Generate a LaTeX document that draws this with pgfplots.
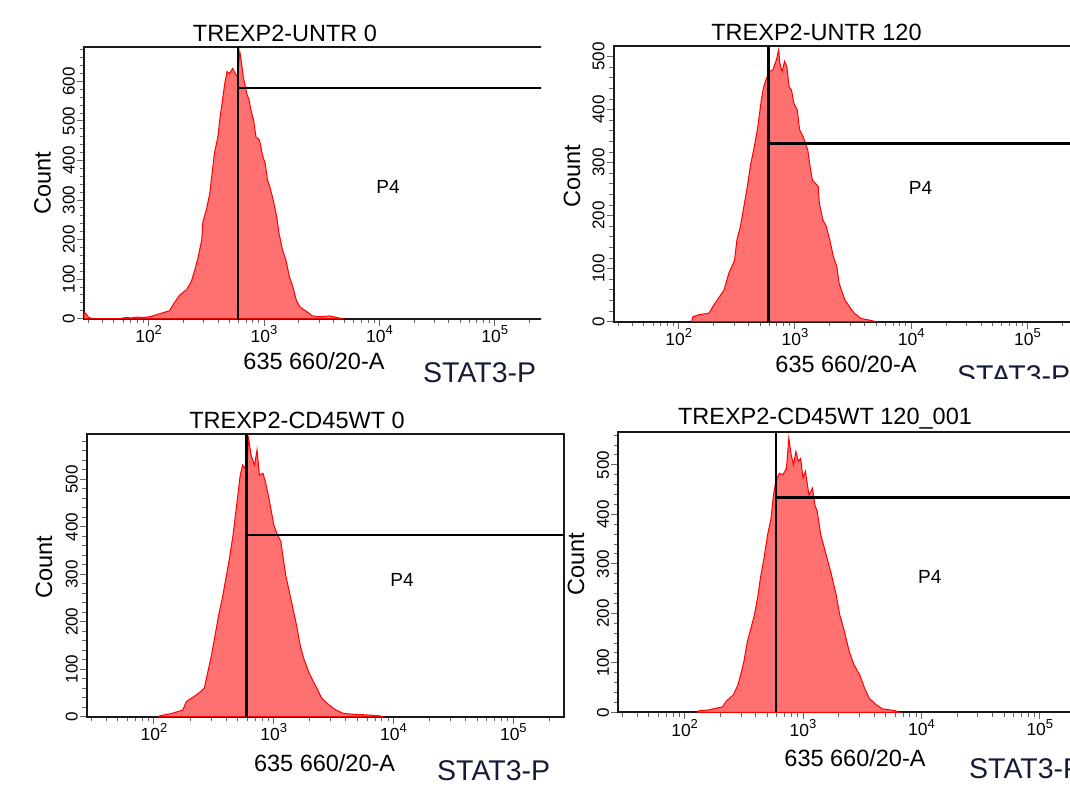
\documentclass[border=0pt]{standalone}
\usepackage{graphicx}
\usepackage{pgfplots}
\pgfplotsset{compat=1.18}
\usepackage{fontspec}
\setmainfont{Liberation Sans}
\definecolor{histfill}{RGB}{255,112,112}
\definecolor{histline}{RGB}{255,0,0}
\definecolor{statnavy}{RGB}{22,28,56}
\newcommand\tp[1]{{\fontsize{17.5}{17.5}\selectfont 10\raisebox{7.5pt}{\fontsize{13}{13}\selectfont #1}}}
\newcommand\bigf{\fontsize{23.5}{24}\selectfont}
\newcommand\pf{\fontsize{19}{19}\selectfont}
\newcommand\statf{\fontsize{28.5}{28.5}\selectfont}
\tikzset{histst/.style={draw=histline, fill=histfill, line width=1pt},
         gatest/.style={black, line width=2.2pt}}
\pgfplotsset{every axis/.append style={
  scale only axis,
  xmin=27.54, xmax=262144, ymin=0,
  axis line style={line width=2pt, black!90},
  tick pos=left, tick align=outside,
  major tick length=7pt, minor tick length=4.5pt,
  every tick/.style={line width=1pt, black!60},
  xtick={100,1000,10000,100000},
  xticklabels={\tp{2},\tp{3},\tp{4},\tp{5}},
  xticklabel style={inner sep=0pt},
  minor xtick={30,40,50,60,70,80,90,200,300,400,500,600,700,800,900,2000,3000,4000,5000,6000,7000,8000,9000,20000,30000,40000,50000,60000,70000,80000,90000,200000},
  ytick distance=100, minor y tick num=4,
  yticklabel={\fontsize{17}{17}\selectfont\pgfmathprintnumber[assume math mode=true]{\tick}},
  yticklabel style={rotate=90, anchor=south, inner sep=2pt},
}}
\begin{document}
\begin{tikzpicture}
\useasboundingbox (0pt,0pt) rectangle (1070pt,785pt);
% ---------------- Panel 1 ----------------
\begin{scope}
\clip (0pt,392pt) rectangle (541pt,785pt);
\begin{semilogxaxis}[at={(84pt,466.3pt)}, anchor=south west, width=459.1pt, height=271.7pt, ymax=687]
\addplot[histst] coordinates {(27.54,16) (28.8,12) (30.2,3) (33.1,0) (56.2,0) (63.1,3) (70.8,2) (79.4,4) (89.1,3) (102.3,5) (123.0,12) (151.4,20) (166.0,39) (186.2,60) (213.8,74) (234.4,94) (251.2,123) (269.2,157) (288.4,199) (295.1,245) (316.2,275) (338.8,317) (354.8,368) (371.5,418) (398.1,460) (416.9,511) (436.5,553) (457.1,595) (478.6,625) (501.2,620) (537.0,633) (562.3,620) (588.8,612) (616.6,675) (631.0,658) (660.7,612) (707.9,570) (741.3,553) (776.2,523) (812.8,502) (851.1,460) (912.0,452) (977.2,410) (1023,393) (1072,351) (1122,334) (1202,300) (1288,258) (1349,216) (1445,174) (1549,148) (1660,106) (1778,81) (1905,47) (2042,30) (2344,18) (2630,7) (3020,5) (3715,7) (4266,3) (4786,0)} \closedcycle;
\addplot[gatest] coordinates {(592,0) (592,687)};
\addplot[gatest] coordinates {(592,584) (262144,584)};
\node[font=\pf] at (axis cs:11890,333) {P4};
\end{semilogxaxis}
\node[font=\bigf, anchor=base] at (285pt,743pt) {TREXP2-UNTR 0};
\node[font=\bigf, anchor=base, inner sep=0pt] at (314pt,415pt) {635 660/20-A};
\node[font=\statf, text=statnavy, anchor=base west, inner sep=0pt] at (423pt,402pt) {STAT3-P};
\node[font=\bigf, rotate=90] at (42.5pt,602pt) {Count};
\end{scope}
% ---------------- Panel 2 ----------------
\begin{scope}
\clip (548pt,406pt) rectangle (1070pt,785pt);
\begin{semilogxaxis}[at={(613.7pt,463.3pt)}, anchor=south west, width=462.3pt, height=275.7pt, ymax=520]
\addplot[histst] coordinates {(128.8,0) (131.8,9) (147.9,13) (182.0,16) (199.5,31) (223.9,47) (245.5,60) (269.2,91) (302.0,116) (316.2,154) (338.8,179) (363.1,217) (389.0,255) (416.9,299) (446.7,330) (478.6,368) (512.9,418) (537.0,443) (562.3,456) (602.6,472) (645.7,475) (691.8,494) (724.4,513) (741.3,487) (776.2,472) (812.8,491) (851.1,481) (891.3,443) (933.3,437) (977.2,412) (1047,399) (1096,362) (1175,349) (1288,324) (1349,292) (1413,267) (1585,255) (1622,223) (1738,192) (1862,179) (1995,154) (2138,123) (2291,104) (2399,72) (2692,41) (2951,28) (3236,16) (3715,6) (4365,3) (5012,0)} \closedcycle;
\addplot[gatest] coordinates {(592,0) (592,520)};
\addplot[gatest] coordinates {(592,336) (262144,336)};
\node[font=\pf] at (axis cs:12020,252) {P4};
\end{semilogxaxis}
\node[font=\bigf, anchor=base] at (816.5pt,744.3pt) {TREXP2-UNTR 120};
\node[font=\bigf, anchor=base, inner sep=0pt] at (846pt,412.3pt) {635 660/20-A};
\node[font=\statf, text=statnavy, anchor=base west, inner sep=0pt] at (957pt,399pt) {STAT3-P};
\node[font=\bigf, rotate=90] at (572pt,609pt) {Count};
\end{scope}
% ---------------- Panel 3 ----------------
\begin{scope}
\clip (0pt,0pt) rectangle (566pt,392pt);
\begin{semilogxaxis}[at={(86.9pt,68.3pt)}, anchor=south west, width=476.6pt, height=282.4pt, ymax=595]
\addplot[histst] coordinates {(109.6,0) (112.2,2) (141.3,7) (173.8,14) (186.2,32) (213.8,42) (234.4,49) (263.0,60) (281.8,95) (302.0,130) (323.6,172) (346.7,214) (371.5,249) (398.1,291) (426.6,334) (457.1,383) (478.6,425) (501.2,467) (524.8,509) (549.5,530) (575.4,523) (602.6,551) (616.6,586) (645.7,551) (676.1,537) (691.8,530) (724.4,562) (758.6,509) (812.8,513) (851.1,495) (912.0,460) (955.0,432) (1000,404) (1072,383) (1148,369) (1175,348) (1259,298) (1349,263) (1445,228) (1549,193) (1660,151) (1778,123) (1950,95) (2138,74) (2291,60) (2512,39) (2884,25) (3311,14) (3802,7) (4677,5) (5754,4) (7586,2) (8128,0)} \closedcycle;
\addplot[gatest] coordinates {(592,0) (592,595)};
\addplot[gatest] coordinates {(592,383) (262144,383)};
\node[font=\pf] at (axis cs:11750,288) {P4};
\end{semilogxaxis}
\node[font=\bigf, anchor=base] at (297pt,356.7pt) {TREXP2-CD45WT 0};
\node[font=\bigf, anchor=base, inner sep=0pt] at (324.6pt,14pt) {635 660/20-A};
\node[font=\statf, text=statnavy, anchor=base west, inner sep=0pt] at (437pt,5pt) {STAT3-P};
\node[font=\bigf, rotate=90] at (44pt,218pt) {Count};
\end{scope}
% ---------------- Panel 4 ----------------
\begin{scope}
\clip (566pt,0pt) rectangle (1070pt,392pt);
\begin{semilogxaxis}[at={(618.3pt,72.7pt)}, anchor=south west, width=471.1pt, height=280.6pt, ymax=567]
\addplot[histst] coordinates {(128.8,0) (131.8,3) (162.2,5) (182.0,8) (208.9,11) (223.9,22) (257.0,35) (281.8,55) (302.0,82) (316.2,102) (338.8,143) (363.1,170) (389.0,197) (416.9,237) (436.5,271) (467.7,311) (501.2,358) (537.0,392) (562.3,439) (588.8,466) (631.0,483) (676.1,480) (724.4,493) (758.6,554) (794.3,520) (831.8,500) (871.0,527) (912.0,507) (955.0,513) (1000,473) (1047,487) (1122,439) (1202,453) (1259,419) (1318,406) (1413,358) (1514,332) (1622,305) (1738,278) (1905,237) (2042,197) (2239,163) (2455,123) (2692,96) (3020,75) (3311,49) (3631,28) (4169,15) (4677,7) (5370,5) (6026,3) (6457,0)} \closedcycle;
\addplot[gatest] coordinates {(592,0) (592,567)};
\addplot[gatest] coordinates {(592,434) (262144,434)};
\node[font=\pf] at (axis cs:11750,274) {P4};
\end{semilogxaxis}
\node[font=\bigf, anchor=base] at (825pt,360pt) {TREXP2-CD45WT 120\_001};
\node[font=\bigf, anchor=base, inner sep=0pt] at (855pt,18.7pt) {635 660/20-A};
\node[font=\statf, text=statnavy, anchor=base west, inner sep=0pt] at (969pt,7pt) {STAT3-P};
\node[font=\bigf, rotate=90] at (576pt,221pt) {Count};
\end{scope}
\end{tikzpicture}
\end{document}
